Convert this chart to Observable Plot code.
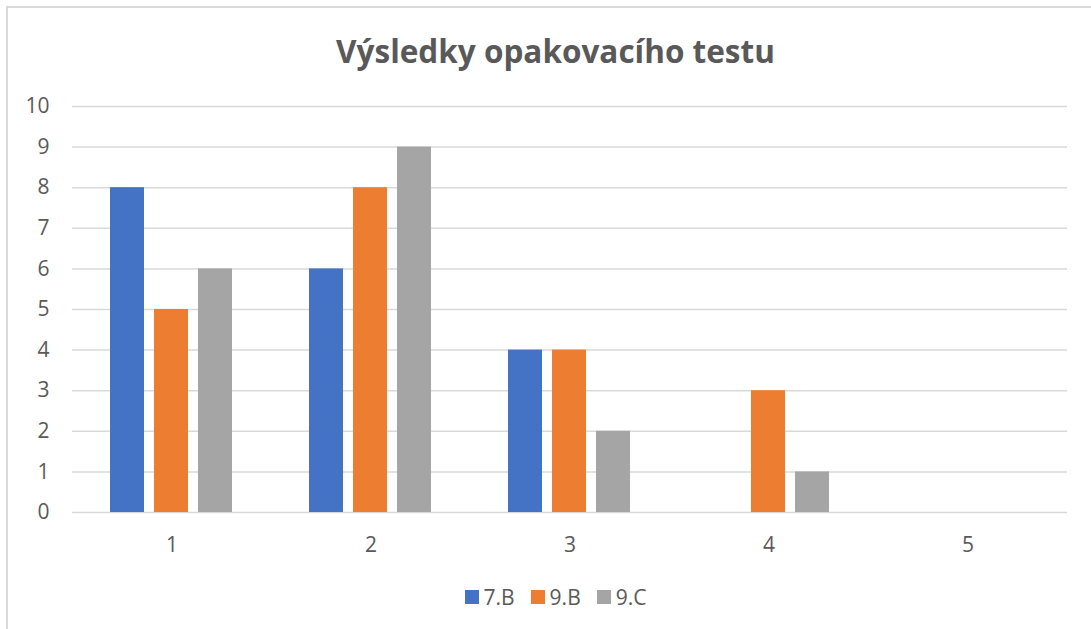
<!DOCTYPE html>
<html>
<head>
<meta charset="utf-8">
<script src="https://cdn.jsdelivr.net/npm/d3@7"></script>
<script src="https://cdn.jsdelivr.net/npm/@observablehq/plot@0.6"></script>
<style>
  html, body { margin: 0; padding: 0; background: #fff; overflow: hidden; width: 1091px; height: 629px; }
  #wrap { position: relative; width: 1091px; height: 629px; font-family: "Open Sans", sans-serif; color: #595959; }
  #border { position: absolute; left: 6px; top: 6px; width: 1120px; height: 650px; border: 2px solid #d9d9d9; box-sizing: border-box; }
  #title { position: absolute; left: 0; top: 31px; width: 1111px; text-align: center; font-weight: bold; font-size: 31.5px; line-height: 40px; color: #595959; }
  #chart { position: absolute; left: 0; top: 80px; }
  #legend { position: absolute; left: 0; top: 584px; width: 1111px; display: flex; justify-content: center; align-items: center; font-size: 21px; line-height: 26px; color: #595959; }
  .item { display: flex; align-items: center; margin: 0 8px; }
  .sw { width: 14px; height: 14px; margin-right: 5px; }
</style>
</head>
<body>
<div id="wrap">
  <div id="border"></div>
  <div id="title">Výsledky opakovacího testu</div>
  <div id="chart"></div>
  <div id="legend"></div>
</div>
<script>
const categories = [1, 2, 3, 4, 5];
const seriesNames = ["7.B", "9.B", "9.C"];
const seriesColors = ["#4472C4", "#ED7D31", "#A5A5A5"];
const values7B = [8, 6, 4, 0, 0];
const values9B = [5, 8, 4, 3, 0];
const values9C = [6, 9, 2, 1, 0];
const yTicks = [0, 1, 2, 3, 4, 5, 6, 7, 8, 9, 10];

const seriesValues = [values7B, values9B, values9C];
const data = [];
categories.forEach((c, i) => {
  seriesNames.forEach((s, j) => {
    data.push({cat: c, series: s, value: seriesValues[j][i]});
  });
});

const chart = Plot.plot({
  width: 1091,
  height: 482,
  marginLeft: 71,
  marginRight: 24,
  marginTop: 26,
  marginBottom: 50,
  style: {fontFamily: "Open Sans", fontSize: "21px", color: "#595959", background: "transparent"},
  fx: {domain: categories, padding: 0, label: null, axis: "bottom", tickSize: 0, tickPadding: 25},
  x: {domain: seriesNames, axis: null, paddingInner: 0.225, paddingOuter: 0.85},
  y: {domain: [0, 10], ticks: yTicks, label: null, tickSize: 0, tickPadding: 23},
  color: {domain: seriesNames, range: seriesColors},
  marks: [
    Plot.ruleY(yTicks, {stroke: "#d9d9d9", strokeWidth: 1.5}),
    Plot.barY(data, {fx: "cat", x: "series", y: "value", fill: "series"})
  ]
});
document.getElementById("chart").appendChild(chart);

const legend = document.getElementById("legend");
seriesNames.forEach((s, i) => {
  const item = document.createElement("div");
  item.className = "item";
  const sw = document.createElement("div");
  sw.className = "sw";
  sw.style.background = seriesColors[i];
  const t = document.createElement("span");
  t.textContent = s;
  item.appendChild(sw);
  item.appendChild(t);
  legend.appendChild(item);
});
</script>
</body>
</html>
